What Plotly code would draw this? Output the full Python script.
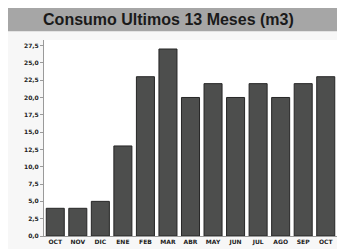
import plotly.graph_objects as go

months = ["OCT", "NOV", "DIC", "ENE", "FEB", "MAR", "ABR", "MAY", "JUN", "JUL", "AGO", "SEP", "OCT "]
consumo = [4, 4, 5, 13, 23, 27, 20, 22, 20, 22, 20, 22, 23]
y_tickvals = [0, 2.5, 5, 7.5, 10, 12.5, 15, 17.5, 20, 22.5, 25, 27.5]
y_ticktext = ["<b>0,0</b>", "<b>2,5</b>", "<b>5,0</b>", "<b>7,5</b>", "<b>10,0</b>", "<b>12,5</b>",
              "<b>15,0</b>", "<b>17,5</b>", "<b>20,0</b>", "<b>22,5</b>", "<b>25,0</b>", "<b>27,5</b>"]
x_ticktext = ["<b>" + m.strip() + "</b>" for m in months]

fig = go.Figure()
fig.add_trace(go.Bar(
    x=months, y=consumo,
    marker=dict(color="#4d4e4d", line=dict(color="#262626", width=1)),
))

fig.update_layout(
    width=345, height=249,
    margin=dict(l=36, r=16, t=32, b=11),
    paper_bgcolor="#f7f7f7",
    plot_bgcolor="#ffffff",
    bargap=0.2,
    showlegend=False,
    font=dict(family="DejaVu Sans", color="#333333"),
    title=dict(text="<b>Consumo Ultimos 13 Meses (m3)</b>", x=0.465, xref="container",
               xanchor="center", y=0.955, yanchor="middle", yref="container",
               font=dict(family="Liberation Sans", size=16, color="#1a1a1a")),
    xaxis=dict(tickvals=months, ticktext=x_ticktext,
               tickfont=dict(size=6, color="#222222"), showline=True, linecolor="#9a9a9a",
               linewidth=1, ticks="", showgrid=False),
    yaxis=dict(range=[0, 28.3], tickvals=y_tickvals, ticktext=y_ticktext,
               tickfont=dict(size=6, color="#222222"), showline=True, linecolor="#9a9a9a",
               linewidth=1, ticks="outside", ticklen=3, tickcolor="#9a9a9a",
               showgrid=False, zeroline=False),
    shapes=[dict(type="rect", xref="paper", yref="paper", x0=-0.2, x1=1.1, y0=1.045, y1=1.2,
                 fillcolor="#a6a6a6", line=dict(width=0), layer="below")],
)

fig.write_html("out.html")
